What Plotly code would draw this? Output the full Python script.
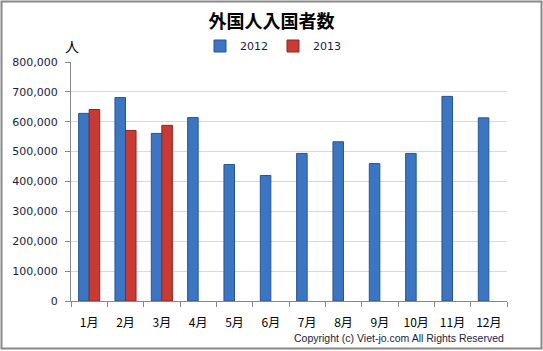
import plotly.graph_objects as go

months = ["1月", "2月", "3月", "4月", "5月", "6月", "7月", "8月", "9月", "10月", "11月", "12月"]
v2012 = [628000, 681000, 561000, 614000, 457000, 420000, 494000, 533000, 460000, 494000, 685000, 613000]
v2013 = [641000, 571000, 588000, None, None, None, None, None, None, None, None, None]
ytick_vals = [0, 100000, 200000, 300000, 400000, 500000, 600000, 700000, 800000]
ytick_text = ["0", "100,000", "200,000", "300,000", "400,000", "500,000", "600,000", "700,000", "800,000"]

W, H = 543, 351
L, R, T, B = 71, 36, 62, 50
pw, ph = W - L - R, H - T - B

def px(x):
    return (x - L) / pw

def py(y):
    return 1 - (y - T) / ph

fig = go.Figure()
fig.add_trace(go.Bar(x=months, y=v2012, name="2012",
                     marker=dict(color="#3C75C2", line=dict(color="#2A5491", width=1))))
fig.add_trace(go.Bar(x=months, y=v2013, name="2013",
                     marker=dict(color="#C93A33", line=dict(color="#8E2522", width=1))))

txt = "#1C1C3C"
fig.update_layout(
    width=W, height=H,
    margin=dict(l=L, r=R, t=T, b=B, autoexpand=False),
    paper_bgcolor="white", plot_bgcolor="white",
    barmode="group", bargap=0.42, bargroupgap=0,
    title=dict(text="<b>外国人入国者数</b>", x=0.5, xref="container", xanchor="center",
               y=1 - 22 / H, yref="container", yanchor="middle",
               font=dict(family="Noto Sans CJK JP", size=18, color="black")),
    legend=dict(orientation="h", x=px(200), xref="paper", xanchor="left",
                y=py(46), yref="paper", yanchor="middle",
                font=dict(family="DejaVu Sans", size=11, color=txt),
                itemwidth=30, tracegroupgap=0, bgcolor="rgba(0,0,0,0)"),
    font=dict(family="DejaVu Sans", size=11, color=txt),
    showlegend=True,
)
fig.update_yaxes(range=[0, 800000], tickvals=ytick_vals, ticktext=ytick_text,
                 showgrid=True, gridcolor="#D9D9D9", gridwidth=1,
                 showline=True, linecolor="#888888", linewidth=1,
                 ticks="outside", ticklen=5, tickcolor="#888888", ticklabelstandoff=5,
                 tickfont=dict(family="DejaVu Sans", size=11, color=txt), zeroline=False)
fig.update_xaxes(showline=True, linecolor="#888888", linewidth=1,
                 ticks="outside", ticklen=5, tickcolor="#888888", tickson="boundaries",
                 tickfont=dict(family="Noto Sans CJK JP", size=12, color="black"),
                 ticklabelstandoff=11, showgrid=False)

fig.add_annotation(text="人", x=px(72), y=py(46), xref="paper", yref="paper",
                   showarrow=False, xanchor="center", yanchor="middle",
                   font=dict(family="Noto Sans CJK JP", size=14, color="black"))
fig.add_annotation(text="Copyright (c) Viet-jo.com All Rights Reserved", x=px(506), y=py(338),
                   xref="paper", yref="paper", showarrow=False, xanchor="right", yanchor="middle",
                   font=dict(family="Liberation Sans", size=10.5, color=txt))
fig.add_shape(type="rect", xref="paper", yref="paper",
              x0=px(1.5), x1=px(541.5), y0=py(348.5), y1=py(1.5),
              line=dict(color="#888888", width=2), fillcolor="rgba(0,0,0,0)", layer="above")

fig.write_html("out.html")
